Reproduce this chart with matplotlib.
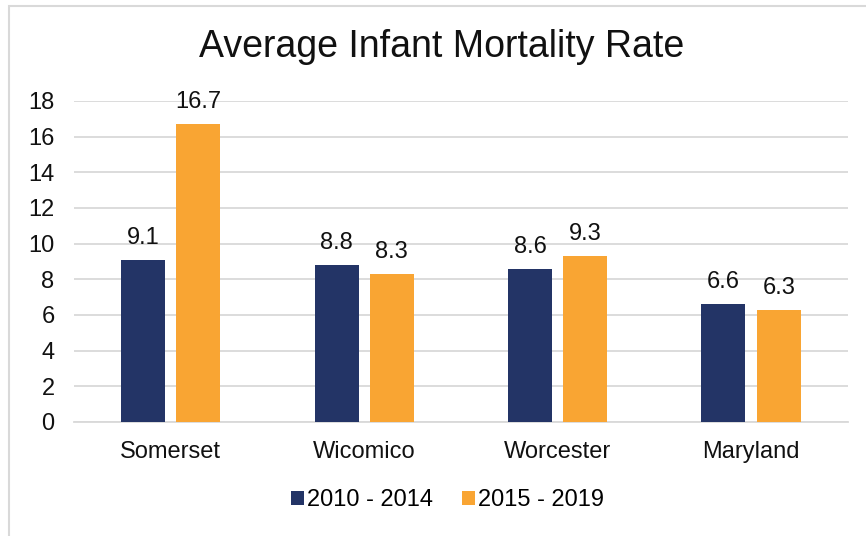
import matplotlib
matplotlib.use("Agg")
import matplotlib.pyplot as plt
import numpy as np
from matplotlib.patches import Rectangle

categories = ["Somerset", "Wicomico", "Worcester", "Maryland"]
series_names = ["2010 - 2014", "2015 - 2019"]
vals_2010_2014 = [9.1, 8.8, 8.6, 6.6]
vals_2015_2019 = [16.7, 8.3, 9.3, 6.3]
yticks = [0, 2, 4, 6, 8, 10, 12, 14, 16, 18]

plt.rcParams['font.family'] = ['Liberation Sans', 'DejaVu Sans']

navy = "#233466"
orange = "#F9A533"
grid_c = "#D9D9D9"
fs = 17

fig = plt.figure(figsize=(8.66, 5.36), dpi=100)
ax = fig.add_axes([0.0855, 0.2127, 0.979 - 0.0855, 0.8116 - 0.2127])

x = np.arange(len(categories))
w = 0.227
off = 0.143
b1 = ax.bar(x - off, vals_2010_2014, w, color=navy, label=series_names[0], zorder=3)
b2 = ax.bar(x + off, vals_2015_2019, w, color=orange, label=series_names[1], zorder=3)

for bars, vals in ((b1, vals_2010_2014), (b2, vals_2015_2019)):
    for r, v in zip(bars, vals):
        ax.annotate(f"{v}", (r.get_x() + r.get_width() / 2, v), xytext=(0, 8),
                    textcoords="offset points", ha="center", va="bottom",
                    fontsize=fs, color="#111111")

ax.set_xlim(-0.5, len(categories) - 0.5)
ax.set_ylim(0, 18)
ax.set_yticks(yticks)
ax.set_yticklabels([str(t) for t in yticks], fontsize=fs)
ax.set_xticks(x)
ax.set_xticklabels(categories, fontsize=fs)
ax.tick_params(axis='both', length=0, colors="#111111")
ax.tick_params(axis='y', pad=14)
ax.tick_params(axis='x', pad=14)
ax.yaxis.grid(True, color=grid_c, linewidth=1.3, zorder=0)
for s in ["top", "right", "left"]:
    ax.spines[s].set_visible(False)
ax.spines["bottom"].set_color(grid_c)
ax.spines["bottom"].set_linewidth(1.3)
ax.set_axisbelow(True)

fig.text(441.5 / 866, 1 - 47 / 536, "Average Infant Mortality Rate", ha="center", va="center",
         fontsize=27, color="#111111")

fig.legend(handles=[b1, b2], labels=series_names, loc="center",
           bbox_to_anchor=(447.5 / 866, 1 - 500 / 536), ncol=2, frameon=False,
           fontsize=fs, handlelength=0.55, handleheight=0.55, handletextpad=0.15,
           columnspacing=1.2)

fig.patches.append(Rectangle((8.5 / 866, -0.1), 1.2, (536 - 5.5) / 536 + 0.1,
                             transform=fig.transFigure, fill=False,
                             edgecolor=grid_c, linewidth=1.5))

fig.savefig("out.png", dpi=100)
